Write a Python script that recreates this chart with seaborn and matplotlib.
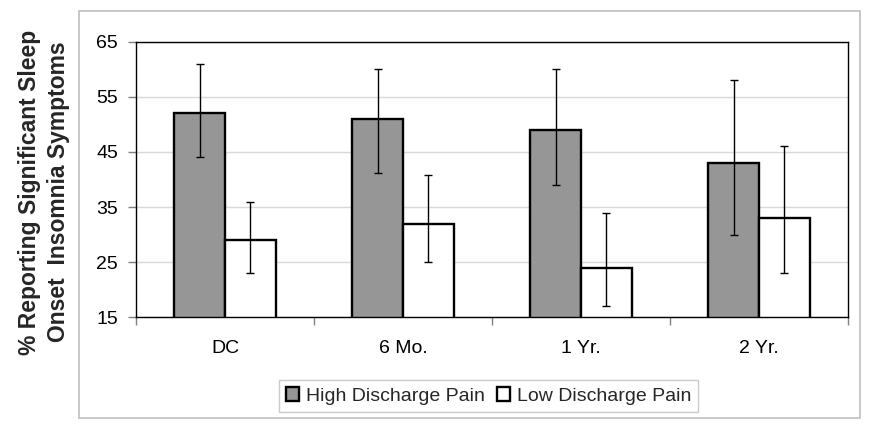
import numpy as np
import pandas as pd
import seaborn as sns
import matplotlib
matplotlib.use("Agg")
import matplotlib.pyplot as plt
from matplotlib.patches import Rectangle

# ---- data ----
periods = ["DC", "6 Mo.", "1 Yr.", "2 Yr."]
series = ["High Discharge Pain", "Low Discharge Pain"]
high = [52, 51, 49, 43]
high_lo = [44, 41.2, 39, 30]
high_hi = [61, 60, 60, 58]
low = [29, 32, 24, 33]
low_lo = [23, 25, 17, 23]
low_hi = [36, 40.8, 34, 46]
yticks = [15, 25, 35, 45, 55, 65]
ylabel = "% Reporting Significant Sleep\nOnset  Insomnia Symptoms"

sns.set_theme(style="white")
plt.rcParams['font.family'] = ['Liberation Sans', 'DejaVu Sans']

fig = plt.figure(figsize=(8.73, 4.26), dpi=100)
ax = fig.add_axes([136 / 873, 1 - 317.3 / 426, (848 - 136) / 873, (317.3 - 41.7) / 426])

df = pd.DataFrame({
    "Period": periods * 2,
    "Group": [series[0]] * len(periods) + [series[1]] * len(periods),
    "Value": high + low,
})

sns.barplot(data=df, x="Period", y="Value", hue="Group", hue_order=series,
            palette=["#969696", "#FFFFFF"], edgecolor="black", linewidth=1.7,
            width=0.573, errorbar=None, saturation=1, ax=ax)

for cont, vals, lo, hi in zip(ax.containers, [high, low], [high_lo, low_lo], [high_hi, low_hi]):
    xs = [p.get_x() + p.get_width() / 2 for p in cont]
    yerr = [np.subtract(vals, lo), np.subtract(hi, vals)]
    ax.errorbar(xs, vals, yerr=yerr, fmt="none", ecolor="black",
                elinewidth=1.0, capsize=3, capthick=1.0, zorder=5)

ax.set_xlim(-0.5, len(periods) - 0.5)
ax.set_ylim(15, 65)
ax.set_yticks(yticks)
ax.set_xlabel("")
ax.set_ylabel("")
ax.yaxis.grid(True, color="#D9D9D9", linewidth=1)
ax.xaxis.grid(False)
ax.set_axisbelow(True)
for s in ax.spines.values():
    s.set_visible(True)
    s.set_color("black")
    s.set_linewidth(1.0)

ax.set_xticks(np.arange(-0.5, len(periods), 1.0), minor=True)
ax.tick_params(axis="x", which="major", length=0, pad=16, labelsize=14, bottom=True)
ax.tick_params(axis="x", which="minor", length=6, width=1, color="#808080", bottom=True, direction="out")
ax.tick_params(axis="y", which="major", length=6, width=1, color="#808080", pad=7,
               labelsize=14, left=True, direction="out")
for t in ax.get_xticklabels() + ax.get_yticklabels():
    t.set_color("black")

handles, labels = ax.get_legend_handles_labels()
if ax.get_legend() is not None:
    ax.get_legend().remove()
leg = fig.legend(handles, labels, loc="center", bbox_to_anchor=(488.5 / 873, 1 - 396 / 426),
                 ncol=2, frameon=True, fancybox=False, edgecolor="#BFBFBF", fontsize=14,
                 handlelength=0.7, handleheight=0.7, handletextpad=0.35, columnspacing=0.6,
                 borderpad=0.35, borderaxespad=0)
leg.get_frame().set_linewidth(1.0)

fig.patches.append(Rectangle((79 / 873, 1 - 418 / 426), (860 - 79) / 873, (418 - 11) / 426,
                             transform=fig.transFigure, fill=False, edgecolor="#BFBFBF",
                             linewidth=1.2))

fig.text(44 / 873, 1 - 192 / 426, ylabel, rotation=90, ha="center", va="center",
         fontsize=16.5, fontweight="bold", multialignment="center", linespacing=1.3)

fig.savefig("out.png", dpi=100)
